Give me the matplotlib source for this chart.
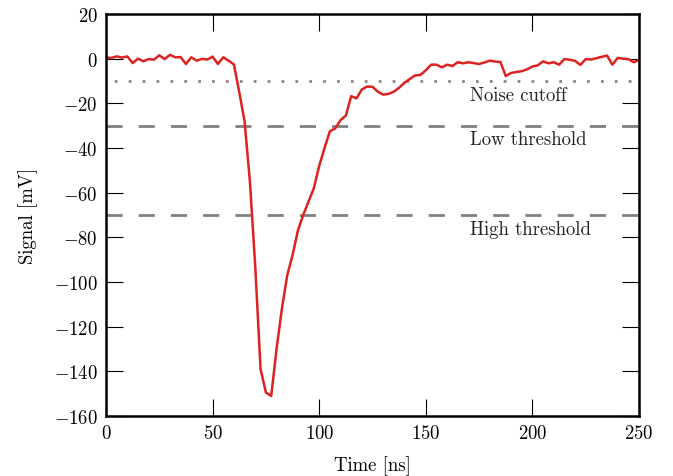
import numpy as np
import matplotlib
matplotlib.use("Agg")
import matplotlib.pyplot as plt

plt.rcParams['font.family'] = 'serif'
plt.rcParams['font.serif'] = ['cmr10']
plt.rcParams['mathtext.fontset'] = 'cm'
plt.rcParams['axes.formatter.use_mathtext'] = True
plt.rcParams['axes.unicode_minus'] = True

time_ns = np.arange(0, 250.01, 2.5)
signal_mv = [
    0.5, 0.3, 1.0, 0.5, 1.0, -2.0, 0.0, -1.2, -0.2, -0.5,
    1.5, -0.2, 1.7, 0.6, 0.7, -2.4, 0.6, -0.9, -0.1, -0.4,
    0.9, -2.4, 0.6, -0.9, -2.6, -15.0, -28.0, -55.0, -93.0, -139.0,
    -149.5, -151.0, -130.0, -112.0, -97.0, -88.0, -77.0, -70.0, -64.0, -58.0,
    -48.0, -40.0, -32.5, -31.3, -27.5, -25.5, -16.8, -17.8, -13.8, -12.5,
    -12.6, -14.8, -16.1, -15.8, -14.8, -13.0, -10.8, -9.1, -7.5, -7.3,
    -5.2, -2.7, -2.7, -3.9, -2.7, -3.3, -1.6, -2.1, -1.6, -2.0,
    -2.4, -1.7, -0.9, -1.3, -1.5, -7.8, -6.4, -6.0, -5.6, -4.8,
    -3.5, -3.0, -1.2, -2.1, -1.6, -2.7, -0.2, -0.5, -1.0, -2.8,
    -0.2, -0.4, 0.2, 0.8, 1.4, -2.7, 0.3, 0.0, -0.2, -1.6,
    -0.6,
]

thresholds = [-10, -30, -70]
threshold_labels = ["Noise cutoff", "Low threshold", "High threshold"]
threshold_styles = ["dotted", "dashed", "dashed"]

FS = 13.5

fig = plt.figure(figsize=(6.73, 4.77), dpi=100)
ax = fig.add_axes([0.1575, 0.1258, 0.792, 0.8428])

for val, lab, sty in zip(thresholds, threshold_labels, threshold_styles):
    if sty == "dotted":
        ax.plot([0, 250], [val, val], color='#888888', lw=2.0,
                linestyle=(2.0, (1.0, 4.0)), dash_capstyle='butt')
    else:
        ax.plot([0, 250], [val, val], color='#808080', lw=2.0,
                linestyle=(0, (5.8, 5.8)))
    ax.text(170.5, val - 6.2, lab, fontsize=FS, va='center', ha='left',
            color='#222222')

ax.plot(time_ns, signal_mv, color='#dd2222', lw=1.8)

ax.set_xlim(0, 250)
ax.set_ylim(-160, 20)
ax.set_xticks([0, 50, 100, 150, 200, 250])
ax.set_yticks(np.arange(-160, 21, 20))
ax.tick_params(direction='in', length=12, width=0.8, top=True, right=True,
               labelsize=FS)
ax.tick_params(axis='x', pad=6)
ax.tick_params(axis='y', pad=6)
for sp in ax.spines.values():
    sp.set_linewidth(1.8)

ax.set_xlabel("Time [ns]", fontsize=FS, labelpad=9)
ax.set_ylabel("Signal [mV]", fontsize=FS, labelpad=11)

fig.savefig("out.png", dpi=100)
